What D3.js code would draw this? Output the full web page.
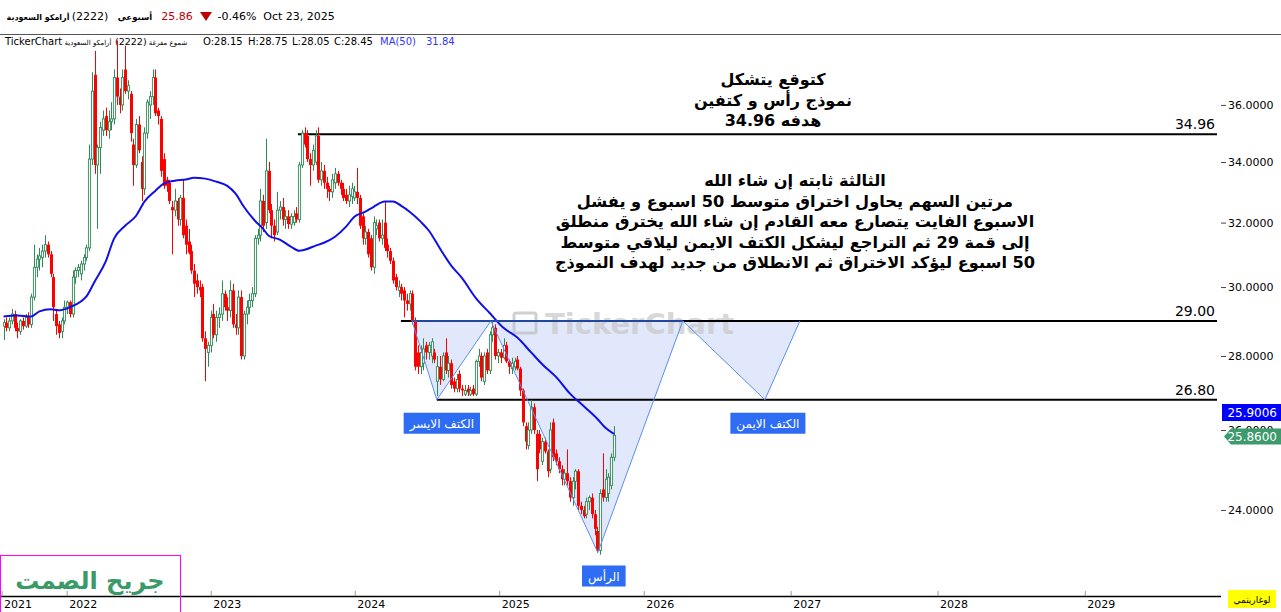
<!DOCTYPE html>
<html>
<head>
<meta charset="utf-8">
<script src="https://cdn.jsdelivr.net/npm/d3@7"></script>
<style>
  body { margin: 0; background: #fff; }
  svg { display: block; }
  text { font-family: "DejaVu Sans", sans-serif; }
</style>
</head>
<body>
<svg id="chart" width="1281" height="612"></svg>
<script>
// weekly candles of Aramco (2222), first week starts 2021-07-25
const firstWeek = "2021-07-25";
const weeklyOHLC = [
  [28.85,29.05,28.45,28.95],[28.95,29.10,28.70,28.80],[28.80,29.10,28.70,29.00],[29.00,29.35,28.90,29.20],[29.20,29.30,28.70,28.80],
  [28.80,28.95,28.50,28.70],[28.70,29.05,28.60,29.00],[29.00,29.10,28.75,28.85],[28.85,29.20,28.80,29.10],[29.10,29.25,28.80,28.90],
  [28.90,29.80,28.80,29.70],[29.70,31.30,29.60,30.60],[30.60,31.00,30.30,30.85],[30.85,31.20,30.50,30.95],[30.90,31.30,30.60,31.10],
  [31.10,31.60,30.90,31.30],[31.30,31.40,30.90,31.00],[31.00,31.10,30.30,30.40],[30.30,30.40,29.00,29.40],[29.20,29.30,28.60,28.85],
  [28.90,29.00,28.50,28.65],[28.70,29.10,28.50,29.00],[29.00,29.60,28.90,29.40],[29.40,29.60,29.20,29.55],[29.55,29.60,29.10,29.20],
  [29.20,30.50,29.10,30.30],[30.30,30.60,30.10,30.50],[30.50,30.70,30.30,30.60],[30.40,30.80,30.20,30.70],[30.70,31.00,30.50,30.90],
  [30.90,31.30,30.80,31.20],[31.20,34.60,31.10,34.10],[34.10,37.20,33.90,36.50],[37.10,38.00,33.60,33.90],[33.90,34.60,31.80,34.50],
  [34.50,35.40,33.60,35.20],[35.10,35.80,34.90,35.50],[35.60,35.90,34.90,35.10],[35.10,35.80,34.80,35.40],[35.40,36.10,35.10,35.50],
  [35.50,37.30,35.30,37.00],[37.00,38.40,36.00,36.30],[36.30,36.60,35.70,36.00],[36.00,37.30,35.80,37.00],[37.30,38.20,36.40,36.50],
  [36.50,36.90,36.20,36.70],[36.40,36.50,34.70,35.00],[34.60,34.80,33.20,33.90],[33.90,35.50,33.80,35.30],[35.30,35.60,34.30,34.40],
  [34.00,34.20,32.70,33.10],[33.10,35.20,32.90,35.00],[35.00,36.20,34.80,36.10],[36.00,36.50,35.50,36.30],[36.30,37.30,36.00,37.00],
  [37.00,37.30,35.60,35.70],[35.80,35.90,35.30,35.60],[35.50,35.60,33.50,33.70],[34.10,34.30,33.10,33.20],[33.40,33.50,33.00,33.20],
  [33.30,33.40,32.60,32.70],[32.50,32.70,31.00,32.40],[32.40,33.10,32.20,32.70],[32.70,32.80,31.90,32.10],[32.10,32.90,31.90,32.80],
  [32.80,33.40,31.50,31.60],[31.90,32.10,31.00,31.30],[31.40,31.80,31.00,31.05],[31.10,31.30,30.40,30.50],[30.50,30.70,29.70,30.10],
  [30.20,30.40,29.80,30.00],[30.00,30.20,29.70,29.90],[30.00,30.10,28.40,28.50],[28.50,28.70,27.30,28.20],[28.10,28.40,27.70,28.30],
  [28.30,29.30,28.10,29.10],[29.20,29.50,28.50,28.60],[28.60,29.30,28.40,29.10],[29.10,29.40,28.80,29.20],[29.20,30.20,29.00,29.80],
  [29.80,29.90,29.30,29.40],[29.40,29.70,29.00,29.30],[29.30,30.20,29.10,29.90],[29.90,30.10,28.80,28.90],[28.90,29.20,28.60,28.80],
  [28.80,29.90,28.60,29.70],[29.70,29.90,27.90,28.00],[28.00,29.30,27.90,29.20],[29.20,29.60,28.90,29.40],[29.40,29.80,29.20,29.60],
  [29.60,30.00,29.40,29.80],[29.80,31.60,29.70,31.50],[31.50,31.80,31.30,31.60],[31.60,33.10,31.40,32.70],[32.70,32.90,31.70,31.90],
  [32.00,34.80,31.80,33.70],[33.70,34.00,32.30,32.40],[32.40,32.60,31.50,31.90],[31.90,32.10,31.40,31.60],[31.70,33.00,31.60,32.40],
  [32.40,32.70,32.10,32.50],[32.50,32.80,31.90,32.10],[32.10,32.40,31.80,32.20],[32.20,32.40,31.80,31.95],[31.95,32.30,31.80,32.20],
  [32.00,32.40,31.90,32.20],[32.30,32.50,32.00,32.10],[32.10,34.00,32.00,33.90],[33.90,35.10,33.80,35.00],[35.00,35.20,34.50,34.60],
  [34.90,35.10,34.00,34.10],[34.10,34.30,33.20,33.90],[33.90,34.60,33.70,34.40],[34.00,35.10,33.90,34.90],[34.90,35.20,33.30,33.40],
  [33.40,34.00,33.20,33.70],[33.70,33.90,33.10,33.30],[33.30,33.50,32.80,33.10],[33.10,33.20,32.70,33.00],[33.00,33.60,32.80,33.40],
  [33.30,33.80,33.10,33.60],[33.60,33.70,33.20,33.30],[33.30,33.40,32.90,33.10],[33.10,33.30,32.70,32.80],[32.90,33.10,32.60,32.70],
  [32.70,33.20,32.50,32.90],[32.85,33.30,32.60,33.10],[32.80,33.20,32.70,33.00],[33.00,33.80,32.60,32.80],[32.80,32.90,31.80,31.90],
  [32.20,32.30,31.30,31.50],[31.50,31.90,31.30,31.70],[31.70,31.80,30.90,31.00],[31.50,31.60,30.50,30.60],[30.60,32.20,30.40,32.00],
  [31.80,32.10,31.60,31.90],[32.00,32.10,31.40,31.50],[31.50,32.10,31.30,31.60],[32.00,32.70,31.10,31.20],[31.30,31.50,30.90,31.10],
  [31.10,31.20,30.70,30.80],[30.80,30.90,30.10,30.20],[30.30,30.40,29.90,30.00],[29.90,30.20,29.70,30.00],[30.00,30.10,29.60,29.80],
  [29.90,30.00,29.10,29.60],[29.60,29.80,29.30,29.50],[29.50,29.90,29.30,29.80],[29.80,29.90,28.90,29.00],[29.00,29.10,27.60,27.70],
  [28.10,28.30,27.50,27.70],[27.70,28.30,27.50,28.10],[27.80,28.50,27.60,28.20],[28.30,28.40,27.90,28.10],[28.10,28.40,27.90,28.30],
  [28.00,28.50,27.80,28.40],[28.10,28.20,27.80,27.90],[27.30,28.00,26.90,27.70],[27.70,28.00,27.20,27.35],[27.35,28.10,27.30,28.00],
  [28.10,28.50,27.50,27.60],[27.60,28.00,27.40,27.80],[27.80,27.90,27.10,27.20],[27.30,27.40,27.00,27.10],[27.10,27.50,27.00,27.35],
  [27.50,27.60,27.00,27.10],[27.10,27.20,26.90,27.05],[26.95,27.20,26.90,27.05],[27.10,27.20,26.90,27.00],[26.95,27.15,26.90,27.05],
  [27.10,27.20,26.90,26.95],[26.95,27.90,26.90,27.85],[27.85,28.20,27.70,28.00],[28.00,28.10,27.30,27.40],[27.30,28.10,27.20,28.00],
  [28.10,28.20,27.50,27.60],[27.60,28.70,27.50,28.60],[28.60,29.00,28.40,28.80],[28.80,28.90,27.90,28.00],[28.00,28.20,27.80,28.10],
  [28.10,28.20,27.80,27.95],[27.95,28.50,27.90,28.30],[28.30,28.40,27.80,27.85],[27.85,27.90,27.50,27.70],[27.65,27.95,27.50,27.80],
  [27.70,27.95,27.60,27.85],[27.90,28.00,27.60,27.65],[27.65,27.70,26.90,27.05],[27.05,27.10,26.10,26.20],[26.10,26.20,25.50,25.70],
  [25.60,26.20,25.50,26.00],[26.00,26.80,25.90,26.60],[26.60,26.70,25.90,26.00],[25.90,26.00,24.70,25.00],[25.90,26.00,25.40,25.50],
  [25.20,25.80,25.10,25.70],[25.70,25.80,25.40,25.45],[25.45,25.50,24.80,24.95],[25.00,26.20,24.90,26.00],[26.20,26.30,25.20,25.30],
  [25.40,25.50,25.10,25.20],[25.20,25.30,24.90,25.00],[25.00,25.10,24.60,24.75],[24.75,25.00,24.60,24.90],[24.90,25.50,24.60,24.70],
  [24.70,24.80,24.20,24.30],[24.30,24.80,24.10,24.70],[24.70,25.00,24.50,24.95],[24.95,25.00,24.00,24.10],[24.10,24.20,23.90,24.00],
  [24.00,24.10,23.80,23.85],[23.90,24.30,23.80,24.20],[24.20,24.35,24.00,24.30],[24.30,24.40,23.80,23.90],[23.90,24.00,23.40,23.55],
  [23.50,23.60,23.00,23.05],[23.05,24.50,22.95,24.40],[24.50,25.40,24.20,24.30],[24.30,25.00,24.20,24.75],[24.40,24.90,24.20,24.80],
  [24.60,25.40,24.50,25.30],[25.30,26.10,25.20,25.86]
];

// MA(50) at some weeks
const maWeek  = [0,5,10,13,17,20,24,28,30,33,37,40,44,48,51,55,58,62,66,69,73,77,81,84,87,91,94,96,100,104,
                 107,109,113,116,120,124,127,131,134,138,141,144,147,151,154,158,162,166,171,176,181,186,191,195,200,205,210,215,218,221];
const maValue = [29.13,29.16,29.13,29.28,29.34,29.31,29.40,29.57,29.72,30.17,30.78,31.49,31.90,32.22,32.68,33.04,33.27,33.37,33.41,33.47,
                 33.44,33.34,33.20,32.94,32.51,32.06,31.80,31.58,31.46,31.24,31.11,31.14,31.27,31.36,31.55,31.87,32.19,32.35,32.51,32.68,
                 32.68,32.54,32.35,32.03,31.74,31.18,30.66,30.27,29.67,29.23,28.80,28.52,28.10,27.77,27.42,26.97,26.63,26.29,26.05,25.90];

const levelPrices = [34.96, 29.00, 26.80];
const levelStart  = ["2023-08-10", "2024-04-27", "2024-07-27"];

// head & shoulders drawing
const hsDates  = ["2024-05-25", "2024-07-27", "2024-12-11", "2025-09-08", "2026-04-08"];
const hsPrices = [29.0, 26.8, 29.0, 23.0, 29.0];
const rsDates  = ["2026-04-08", "2026-10-29", "2027-01-24"];
const rsPrices = [29.0, 26.8, 29.0];

const yTicks = [24, 26, 28, 30, 32, 34, 36];
const yearTicks = ["2021-07-20","2022-01-01","2023-01-01","2024-01-01","2025-01-01","2026-01-01","2027-01-01","2028-01-01","2029-01-01"];

const lastClose = 25.86, lastMA = 25.9006;

const parse = d3.timeParse("%Y-%m-%d");
const svg = d3.select("#chart");

const x = d3.scaleTime()
  .domain([parse("2021-07-16"), parse("2025-10-19"), parse("2029-11-28")])
  .range([0, 614, 1218]);
const y = d3.scaleLog().domain([22.02, 38.61]).range([596, 35]);

const start = parse(firstWeek);
const candles = weeklyOHLC.map((d, i) => ({
  date: d3.timeDay.offset(start, 7 * i), o: d[0], h: d[1], l: d[2], c: d[3]
}));

// header
const head = svg.append("g").attr("font-family", "Liberation Sans").attr("font-size", 11);
head.append("text").attr("x", 38).attr("y", 20).attr("text-anchor", "middle").attr("direction", "rtl")
  .attr("font-family", "DejaVu Sans").attr("font-size", 8).attr("font-weight", "bold").text("أرامكو السعودية");
head.append("text").attr("x", 90).attr("y", 20).attr("text-anchor", "middle").text("(2222)");
head.append("text").attr("x", 135).attr("y", 20).attr("text-anchor", "middle").attr("direction", "rtl")
  .attr("font-family", "DejaVu Sans").attr("font-size", 8.5).attr("font-weight", "bold").text("أسبوعي");
head.append("text").attr("x", 177).attr("y", 20).attr("text-anchor", "middle").attr("fill", "#c00000").text("25.86");
head.append("path").attr("d", "M200,12 L212,12 L206,21 Z").attr("fill", "#c00000");
head.append("text").attr("x", 237).attr("y", 20).attr("text-anchor", "middle").text("-0.46%");
head.append("text").attr("x", 299).attr("y", 20).attr("text-anchor", "middle").text("Oct 23, 2025");
svg.append("line").attr("x1", 0).attr("x2", 1281).attr("y1", 34.5).attr("y2", 34.5).attr("stroke", "#555");

const leg = svg.append("g").attr("font-family", "Liberation Sans").attr("font-size", 10);
leg.append("text").attr("x", 5).attr("y", 45).text("TickerChart");
leg.append("text").attr("x", 88).attr("y", 45).attr("text-anchor", "middle").attr("direction", "rtl")
  .attr("font-family", "DejaVu Sans").attr("font-size", 7).text("أرامكو السعودية");
leg.append("text").attr("x", 115).attr("y", 45).attr("font-size", 9.5).text("(2222)");
leg.append("text").attr("x", 168).attr("y", 45).attr("text-anchor", "middle").attr("direction", "rtl")
  .attr("font-family", "DejaVu Sans").attr("font-size", 7).text("شموع مفرغة");
[["O:28.15", 203], ["H:28.75", 248], ["L:28.05", 292], ["C:28.45", 334]].forEach(([t, px]) =>
  leg.append("text").attr("x", px).attr("y", 45).text(t));
leg.append("text").attr("x", 380).attr("y", 45).attr("fill", "#3333ff").text("MA(50)");
leg.append("text").attr("x", 426).attr("y", 45).attr("fill", "#3333ff").text("31.84");

// pattern fill
const pt = (dates, prices) => dates.map((d, i) => [x(parse(d)), y(prices[i])]);
const hsPts = pt(hsDates, hsPrices);
const rsPts = pt(rsDates, rsPrices);
svg.append("polygon").attr("points", hsPts.map(p => p.join(",")).join(" "))
  .attr("fill", "#dce4fb").attr("fill-opacity", 0.85);
svg.append("polygon").attr("points", rsPts.map(p => p.join(",")).join(" "))
  .attr("fill", "#dce4fb").attr("fill-opacity", 0.85);

// watermark
const wm = svg.append("g").attr("opacity", 0.7);
wm.append("rect").attr("x", 514).attr("y", 313).attr("width", 22).attr("height", 20).attr("rx", 2)
  .attr("fill", "none").attr("stroke", "#bdbdbd").attr("stroke-width", 3);
wm.append("text").attr("x", 545).attr("y", 334).attr("font-family", "Liberation Sans").attr("font-weight", "bold")
  .attr("font-size", 29).attr("fill", "#c8c8c8").text("TickerChart");

// horizontal levels
levelPrices.forEach((p, i) => {
  svg.append("line").attr("x1", x(parse(levelStart[i]))).attr("x2", 1217)
    .attr("y1", y(p)).attr("y2", y(p)).attr("stroke", "#000").attr("stroke-width", 2);
  svg.append("text").attr("x", 1215).attr("y", y(p) - 5).attr("text-anchor", "end")
    .attr("font-family", "Liberation Sans").attr("font-size", 14).text(p.toFixed(2));
});

// candles
const cg = svg.append("g");
const bw = 2.2;
candles.forEach(d => {
  const cx = Math.round(x(d.date)) + 0.5;
  const up = d.c >= d.o;
  const col = up ? "#2e8b57" : "#ff0000";
  cg.append("line").attr("x1", cx).attr("x2", cx).attr("y1", y(d.h)).attr("y2", y(d.l))
    .attr("stroke", col).attr("stroke-width", 1);
  const top = y(Math.max(d.o, d.c)), bot = y(Math.min(d.o, d.c));
  if (up) {
    cg.append("rect").attr("x", cx - bw / 2).attr("y", top).attr("width", bw).attr("height", Math.max(1, bot - top))
      .attr("fill", "#fff").attr("stroke", col).attr("stroke-width", 0.9);
  } else {
    cg.append("rect").attr("x", cx - bw / 2 - 0.4).attr("y", top).attr("width", bw + 0.8).attr("height", Math.max(1, bot - top))
      .attr("fill", col);
  }
});

// MA(50)
const maLine = d3.line().curve(d3.curveMonotoneX)
  .x(d => x(d3.timeDay.offset(start, 7 * d[0]))).y(d => y(d[1]));
svg.append("path").datum(maWeek.map((w, i) => [w, maValue[i]]))
  .attr("d", maLine).attr("fill", "none").attr("stroke", "#1010e6").attr("stroke-width", 2);

// pattern strokes
const zig = d3.line();
svg.append("path").attr("d", zig(hsPts)).attr("fill", "none").attr("stroke", "#5b8ff0").attr("stroke-width", 1);
svg.append("path").attr("d", zig(rsPts)).attr("fill", "none").attr("stroke", "#5b8ff0").attr("stroke-width", 1);
svg.append("line").attr("x1", hsPts[0][0]).attr("x2", hsPts[4][0]).attr("y1", hsPts[0][1]).attr("y2", hsPts[4][1])
  .attr("stroke", "#2f5fd0").attr("stroke-width", 1.5);

// blue tags
function tag(cx, ty, label) {
  const g = svg.append("g");
  const t = g.append("text").attr("x", cx).attr("y", ty + 15).attr("text-anchor", "middle").attr("direction", "rtl")
    .attr("font-size", 12).attr("fill", "#fff").text(label);
  const w = t.node().getComputedTextLength() + 12;
  g.insert("rect", "text").attr("x", cx - w / 2).attr("y", ty).attr("width", w).attr("height", 21).attr("fill", "#2e6cf4");
}
tag(hsPts[1][0] + 5, hsPts[1][1] + 13, "الكتف الايسر");
tag(hsPts[3][0] + 6, hsPts[3][1] + 13, "الرأس");
tag(rsPts[1][0] + 3, rsPts[1][1] + 13, "الكتف الايمن");

// notes
const note1 = ["كتوقع يتشكل", "نموذج رأس و كتفين", "هدفه 34.96"];
const note2 = ["الثالثة ثابته إن شاء الله",
  "مرتين السهم يحاول اختراق متوسط 50 اسبوع و يفشل",
  "الاسبوع الفايت يتصارع معه القادم إن شاء الله يخترق منطلق",
  "إلى قمة 29 ثم التراجع ليشكل الكتف الايمن ليلاقي متوسط",
  "50 اسبوع ليؤكد الاختراق ثم الانطلاق من جديد لهدف النموذج"];
note1.forEach((t, i) => svg.append("text").attr("x", 773).attr("y", 85 + i * 20.5)
  .attr("text-anchor", "middle").attr("direction", "rtl").attr("font-weight", "bold").attr("font-size", 16).text(t));
note2.forEach((t, i) => svg.append("text").attr("x", 795).attr("y", 186 + i * 20.5)
  .attr("text-anchor", "middle").attr("direction", "rtl").attr("font-weight", "bold").attr("font-size", 16.2).text(t));

// right axis
const ya = svg.append("g").attr("transform", "translate(1221,0)")
  .call(d3.axisRight(y).tickValues(yTicks).tickFormat(d3.format(".4f")).tickSize(5).tickPadding(2));
ya.select(".domain").remove();
ya.selectAll("text").attr("font-family", "DejaVu Sans").attr("font-size", 11).attr("fill", "#000");
ya.selectAll("line").attr("stroke", "#444");

// price tags on the axis
const maTag = svg.append("g");
maTag.append("rect").attr("x", 1222).attr("y", 404).attr("width", 59).attr("height", 17).attr("fill", "#0000ff");
maTag.append("text").attr("x", 1277).attr("y", 417).attr("text-anchor", "end").attr("fill", "#fff")
  .attr("font-size", 12).text(lastMA.toFixed(4));
const cy = y(lastClose) + 1;
const clTag = svg.append("g");
clTag.append("path").attr("d", `M1224,${cy} L1231,${cy - 8} L1281,${cy - 8} L1281,${cy + 8} L1231,${cy + 8} Z`).attr("fill", "#3d9a6c");
clTag.append("text").attr("x", 1277).attr("y", cy + 4.5).attr("text-anchor", "end").attr("fill", "#fff")
  .attr("font-size", 12).text(lastClose.toFixed(4));

// bottom axis
const xa = svg.append("g").attr("transform", "translate(0,596)")
  .call(d3.axisBottom(x).tickValues(yearTicks.map(parse)).tickFormat((d, i) => i === 0 ? "2021" : d3.timeFormat("%Y")(d))
    .tickSize(0).tickPadding(4));
xa.select(".domain").attr("d", "M0,0.5H1221").attr("stroke", "#000").attr("stroke-width", 1.5);
xa.selectAll("text").attr("text-anchor", "start").attr("dx", 2).attr("font-family", "DejaVu Sans")
  .attr("font-size", 11).attr("fill", "#000");
xa.selectAll(".tick").append("line").attr("y1", -5).attr("y2", 0).attr("stroke", "#999");

svg.append("rect").attr("x", 1228).attr("y", 590).attr("width", 48).attr("height", 18).attr("fill", "#ffff00");
svg.append("text").attr("x", 1252).attr("y", 603).attr("text-anchor", "middle").attr("direction", "rtl")
  .attr("font-size", 9).text("لوغاريتمي");

// signature box
svg.append("rect").attr("x", 0.5).attr("y", 555.5).attr("width", 180).attr("height", 60)
  .attr("fill", "none").attr("stroke", "#ff00ff").attr("stroke-width", 1);
svg.append("text").attr("x", 90).attr("y", 589).attr("text-anchor", "middle").attr("direction", "rtl")
  .attr("font-weight", "bold").attr("font-size", 24).attr("fill", "#3a9a68").text("جريح الصمت");
</script>
</body>
</html>
